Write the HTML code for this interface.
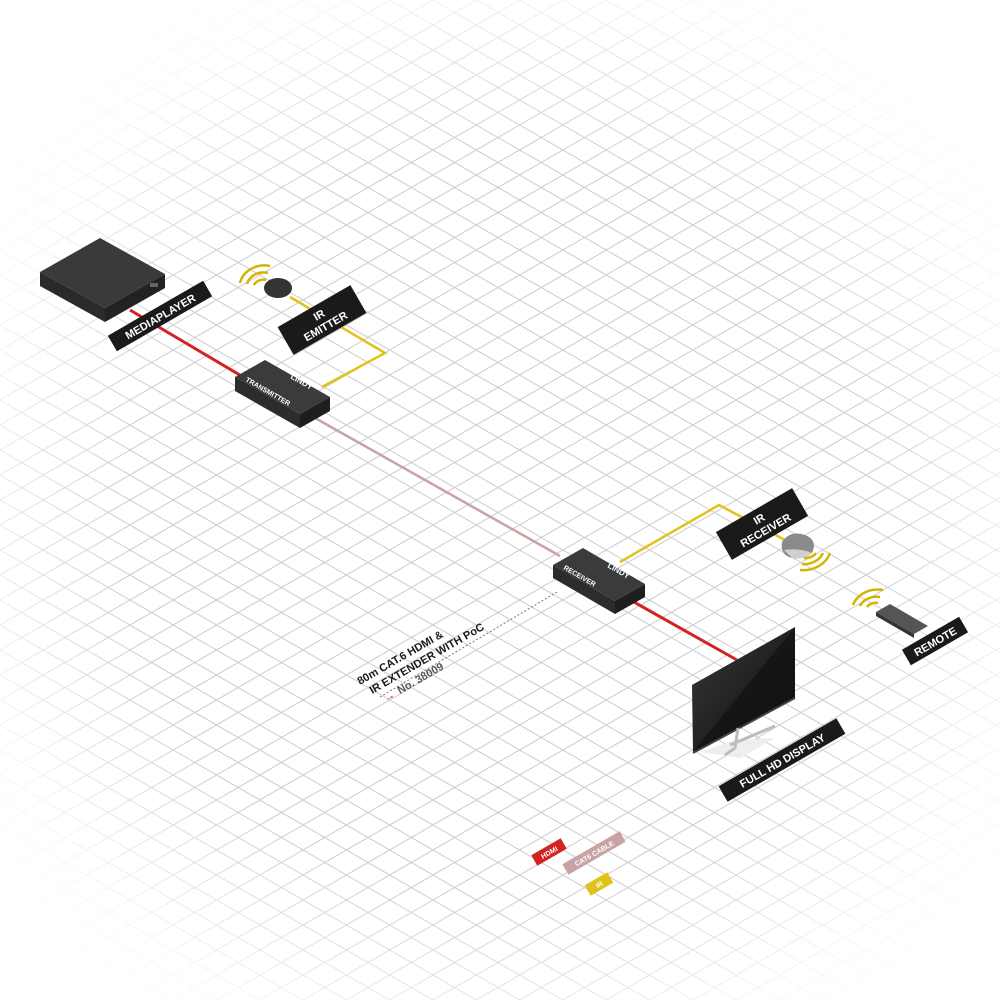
<!DOCTYPE html>
<html><head><meta charset="utf-8"><style>
html,body{margin:0;padding:0;background:#fff}
svg{display:block}
text{font-family:"Liberation Sans",sans-serif;font-weight:bold}
</style></head><body>
<svg width="1000" height="1000" viewBox="0 0 1000 1000" xmlns="http://www.w3.org/2000/svg">
<defs>
<pattern id="g" width="43.3" height="25" patternUnits="userSpaceOnUse">
<path d="M0,0 L43.3,25 M0,25 L43.3,0" stroke="#cdcdcd" stroke-width="1" fill="none"/>
</pattern>
<radialGradient id="fade" cx="0.5" cy="0.52" r="0.62">
<stop offset="0.6" stop-color="#fff" stop-opacity="0"/>
<stop offset="0.88" stop-color="#fff" stop-opacity="0.85"/>
<stop offset="1" stop-color="#fff" stop-opacity="1"/>
</radialGradient>
<linearGradient id="tvg" x1="0" y1="0" x2="1" y2="1">
<stop offset="0" stop-color="#3a3a3a"/><stop offset="0.5" stop-color="#222"/><stop offset="0.5" stop-color="#151515"/><stop offset="1" stop-color="#111"/>
</linearGradient>
</defs>
<rect width="1000" height="1000" fill="url(#g)"/>
<rect width="1000" height="1000" fill="url(#fade)"/>

<!-- cables -->
<line x1="130" y1="310" x2="255" y2="384" stroke="#d42222" stroke-width="3"/>
<line x1="315" y1="418" x2="560" y2="556" stroke="#c9a3a3" stroke-width="2.5"/>
<line x1="625" y1="597" x2="737" y2="660" stroke="#d42222" stroke-width="3"/>
<polyline points="290,297 385,353 322,387" fill="none" stroke="#e0c21a" stroke-width="2.5"/>
<polyline points="620,562 719,505 800,548" fill="none" stroke="#e0c21a" stroke-width="2.5"/>
<line x1="557" y1="592" x2="380" y2="697" stroke="#777" stroke-width="1" stroke-dasharray="2,2"/>

<!-- mediaplayer -->
<polygon points="40,272 100,238 165,274 105,308" fill="#3a3a3a"/>
<polygon points="40,272 105,308 105,322 40,286" fill="#2a2a2a"/>
<polygon points="105,308 165,274 165,288 105,322" fill="#222"/>
<rect x="150" y="283" width="8" height="4" fill="#666"/>

<!-- IR emitter -->
<ellipse cx="278" cy="288" rx="14" ry="10" fill="#333"/>
<g fill="none" stroke="#d4b400" stroke-width="2.5">
<path d="M240,283 A25,22 0 0 1 270,266"/><path d="M247,284 A17,15 0 0 1 268,273"/><path d="M254,285 A10,9 0 0 1 266,280"/>
</g>

<!-- transmitter -->
<polygon points="235,377 265,360 330,397 300,414" fill="#3b3b3b"/>
<polygon points="235,377 300,414 300,428 235,391" fill="#2c2c2c"/>
<polygon points="300,414 330,397 330,411 300,428" fill="#1e1e1e"/>
<text transform="translate(245,381) rotate(30)" font-size="7" fill="#fff">TRANSMITTER</text>
<text transform="translate(290,378) rotate(30)" font-size="8" fill="#fff">LINDY</text>

<!-- receiver -->
<polygon points="553,565 583,548 645,584 615,601" fill="#3b3b3b"/>
<polygon points="553,565 615,601 615,614 553,578" fill="#2c2c2c"/>
<polygon points="615,601 645,584 645,597 615,614" fill="#1e1e1e"/>
<text transform="translate(563,569) rotate(30)" font-size="7" fill="#fff">RECEIVER</text>
<text transform="translate(607,567) rotate(30)" font-size="8" fill="#fff">LINDY</text>

<!-- IR receiver -->
<path d="M782,542 Q790,530 805,535 Q818,540 812,553 Q805,560 792,558 Q780,555 782,542Z" fill="#8a8a8a"/>
<path d="M784,550 Q800,548 812,553 Q805,560 792,558Z" fill="#cfcfcf"/>
<g fill="none" stroke="#d4b400" stroke-width="2.5">
<path d="M800,570 A28,24 0 0 0 830,553"/><path d="M802,564 A20,17 0 0 0 823,553"/><path d="M804,558 A12,10 0 0 0 816,553"/>
</g>

<!-- remote -->
<polygon points="876,612 890,604 928,626 914,634" fill="#555"/>
<polygon points="876,612 914,634 914,638 876,616" fill="#333"/>
<g fill="none" stroke="#d4b400" stroke-width="2.5">
<path d="M853,605 A26,22 0 0 1 883,590"/><path d="M860,606 A18,15 0 0 1 880,597"/><path d="M867,607 A10,8 0 0 1 878,603"/>
</g>

<!-- TV -->
<polygon points="700,752 735,740 775,738 740,758" fill="#eee"/>
<polygon points="692,685 795,627 795,698 693,753" fill="url(#tvg)"/>
<polyline points="693,753 795,698" stroke="#444" stroke-width="2" fill="none"/>
<path d="M738,728 L735,748 M730,745 L775,726 M735,748 L725,755" stroke="#bbb" stroke-width="3" fill="none"/>

<!-- labels -->
<g transform="translate(160,316) rotate(-30)">
<rect x="-55" y="-9" width="110" height="18" fill="#1a1a1a"/>
<text x="0" y="4.5" font-size="11" fill="#fff" text-anchor="middle">MEDIAPLAYER</text></g>
<g transform="translate(322,320) rotate(-30)">
<rect x="-42" y="-16" width="84" height="32" fill="#1a1a1a"/>
<text x="0" y="-2" font-size="11" fill="#fff" text-anchor="middle">IR</text>
<text x="0" y="11" font-size="11" fill="#fff" text-anchor="middle">EMITTER</text></g>
<g transform="translate(762,524) rotate(-30)">
<rect x="-44" y="-16" width="88" height="32" fill="#1a1a1a"/>
<text x="0" y="-2" font-size="11" fill="#fff" text-anchor="middle">IR</text>
<text x="0" y="11" font-size="11" fill="#fff" text-anchor="middle">RECEIVER</text></g>
<g transform="translate(935,641) rotate(-30)">
<rect x="-33" y="-9" width="66" height="18" fill="#1a1a1a"/>
<text x="0" y="4.5" font-size="11" fill="#fff" text-anchor="middle">REMOTE</text></g>
<g transform="translate(782,760) rotate(-30)">
<rect x="-68" y="-9" width="136" height="18" fill="#1a1a1a"/>
<text x="0" y="4.5" font-size="11" fill="#fff" text-anchor="middle">FULL HD DISPLAY</text></g>

<!-- description -->
<g transform="translate(360,685) rotate(-30)">
<text x="0" y="0" font-size="11" fill="#1a1a1a">80m CAT.6 HDMI &amp;</text>
<text x="6" y="14" font-size="11" fill="#1a1a1a">IR EXTENDER WITH PoC</text>
<text x="30" y="28" font-size="11" fill="#555" font-weight="normal">No. 38009</text>
<text x="14" y="28" font-size="11" fill="#d42222">→</text>
</g>

<!-- legend -->
<g transform="translate(549,852) rotate(-30)">
<rect x="-17" y="-6" width="34" height="12" fill="#d42222"/>
<text x="0" y="3" font-size="7" fill="#fff" text-anchor="middle">HDMI</text></g>
<g transform="translate(594,853) rotate(-30)">
<rect x="-33" y="-6" width="66" height="12" fill="#c9a3a3"/>
<text x="0" y="3" font-size="7" fill="#fff" text-anchor="middle">CAT6 CABLE</text></g>
<g transform="translate(599,884) rotate(-30)">
<rect x="-13" y="-6" width="26" height="12" fill="#e0c21a"/>
<text x="0" y="3" font-size="7" fill="#fff" text-anchor="middle">IR</text></g>
</svg>
</body></html>
